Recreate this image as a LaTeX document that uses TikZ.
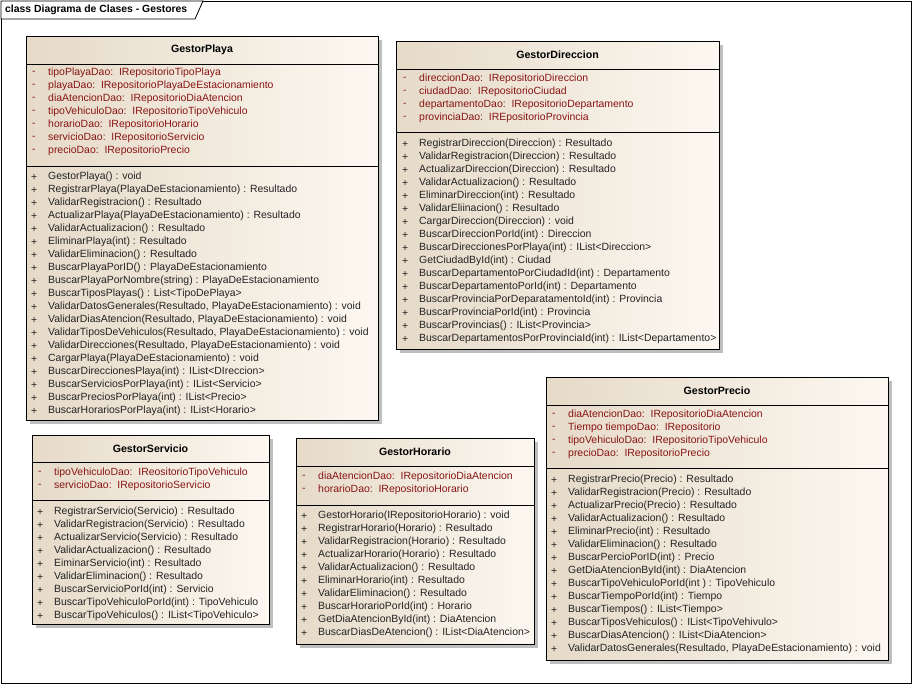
\documentclass[tikz,border=0pt]{standalone}
\usepackage{fontspec}
\setmainfont{Liberation Sans}
\definecolor{attrc}{RGB}{135,20,20}
\definecolor{methc}{RGB}{35,35,35}
\definecolor{boxL}{RGB}{230,218,200}
\definecolor{boxR}{RGB}{252,248,241}
\definecolor{shadowc}{RGB}{190,190,190}
\tikzset{
  every node/.style={font=\fontsize{10.45}{12}\selectfont},
  attr/.style={anchor=west, inner sep=0, text=attrc},
  meth/.style={anchor=west, inner sep=0, text=methc},
  ctitle/.style={inner sep=0, font=\fontsize{10.6}{12}\selectfont\bfseries},
  classbox/.style={draw=black, line width=0.9pt, left color=boxL, right color=boxR, inner sep=0, anchor=north west},
  shadowbox/.style={fill=shadowc},
  sepline/.style={draw=black, line width=0.8pt},
}
% #1 name, #2 x1, #3 y1, #4 x2, #5 y2, #6 sep1, #7 sep2, #8 title
\newcommand\umlclass[8]{%
  \fill[shadowbox] (#2+4,#3+4) rectangle (#4+4,#5+4);
  \node[classbox, minimum width={(#4-#2)*1pt}, minimum height={(#5-#3)*1pt}] (#1) at (#2,#3) {};
  \draw[sepline] (#2,#6) -- (#4,#6);
  \draw[sepline] (#2,#7) -- (#4,#7);
  \node[ctitle] (#1-title) at ({(#2+#4)/2},{(#3+#6)/2}) {#8};
}
% #1 name, #2 box x, #3 first y, #4 list
\newcommand\attrlist[4]{%
  \foreach \itemtext [count=\i] in {#4} {
    \node[attr] (#1-as\i) at (#2+6,{#3+(\i-1)*13}) {-};
    \node[attr] (#1-a\i) at (#2+22,{#3+(\i-1)*13}) {\itemtext};
  }%
}
\newcommand\methlist[4]{%
  \foreach \itemtext [count=\i] in {#4} {
    \node[meth] (#1-ms\i) at (#2+5,{#3+(\i-1)*13}) {+};
    \node[meth] (#1-m\i) at (#2+22,{#3+(\i-1)*13}) {\itemtext};
  }%
}
\newcommand\dsp{\ \ }
\begin{document}
\begin{tikzpicture}[x=1pt,y=-1pt]
\useasboundingbox (0,0) rectangle (913,685);
\fill[white] (0,0) rectangle (913,685);
\draw[line width=0.8pt] (1,1) rectangle (911,683);
\draw[line width=0.8pt, fill=white] (1,1) -- (203,1) -- (195,19) -- (1,19) -- cycle;
\node[anchor=west, inner sep=0, font=\fontsize{10.4}{12}\selectfont\bfseries] (frametitle) at (5,10) {class Diagrama de Clases - Gestores};

% GestorPlaya
\umlclass{playa}{26}{36}{378}{420}{64}{166}{GestorPlaya}
\attrlist{playa}{26}{73}{tipoPlayaDao:\dsp IRepositorioTipoPlaya, playaDao:\dsp IRepositorioPlayaDeEstacionamiento, diaAtencionDao:\dsp IRepositorioDiaAtencion, tipoVehiculoDao:\dsp IRepositorioTipoVehiculo, horarioDao:\dsp IRepositorioHorario, servicioDao:\dsp IRepositorioServicio, precioDao:\dsp IRepositorioPrecio}
\methlist{playa}{26}{177}{GestorPlaya() : void, RegistrarPlaya(PlayaDeEstacionamiento) : Resultado, ValidarRegistracion() : Resultado, ActualizarPlaya(PlayaDeEstacionamiento) : Resultado, ValidarActualizacion() : Resultado, EliminarPlaya(int) : Resultado, ValidarEliminacion() : Resultado, BuscarPlayaPorID() : PlayaDeEstacionamiento, BuscarPlayaPorNombre(string) : PlayaDeEstacionamiento, BuscarTiposPlayas() : List<TipoDePlaya>, {ValidarDatosGenerales(Resultado, PlayaDeEstacionamiento) : void}, {ValidarDiasAtencion(Resultado, PlayaDeEstacionamiento) : void}, {ValidarTiposDeVehiculos(Resultado, PlayaDeEstacionamiento) : void}, {ValidarDirecciones(Resultado, PlayaDeEstacionamiento) : void}, CargarPlaya(PlayaDeEstacionamiento) : void, BuscarDireccionesPlaya(int) : IList<DIreccion>, BuscarServiciosPorPlaya(int) : IList<Servicio>, BuscarPreciosPorPlaya(int) : IList<Precio>, BuscarHorariosPorPlaya(int) : IList<Horario>}

% GestorDireccion
\umlclass{direccion}{396}{41}{719}{349}{69}{132}{GestorDireccion}
\attrlist{direccion}{397}{79}{direccionDao:\dsp IRepositorioDireccion, ciudadDao:\dsp IRepositorioCiudad, departamentoDao:\dsp IRepositorioDepartamento, provinciaDao:\dsp IREpositorioProvincia}
\methlist{direccion}{397}{144}{RegistrarDireccion(Direccion) : Resultado, ValidarRegistracion(Direccion) : Resultado, ActualizarDireccion(Direccion) : Resultado, ValidarActualizacion() : Resultado, EliminarDireccion(int) : Resultado, ValidarEliinacion() : Resultado, CargarDireccion(Direccion) : void, BuscarDireccionPorId(int) : Direccion, BuscarDireccionesPorPlaya(int) : IList<Direccion>, GetCiudadById(int) : Ciudad, BuscarDepartamentoPorCiudadId(int) : Departamento, BuscarDepartamentoPorId(int) : Departamento, BuscarProvinciaPorDeparatamentoId(int) : Provincia, BuscarProvinciaPorId(int) : Provincia, BuscarProvincias() : IList<Provincia>, BuscarDepartamentosPorProvinciaId(int) : IList<Departamento>}

% GestorPrecio
\umlclass{precio}{546}{377}{888}{660}{405}{468}{GestorPrecio}
\attrlist{precio}{546}{415}{diaAtencionDao:\dsp IRepositorioDiaAtencion, Tiempo tiempoDao:\dsp IRepositorio, tipoVehiculoDao:\dsp IRepositorioTipoVehiculo, precioDao:\dsp IRepositorioPrecio}
\methlist{precio}{546}{480}{RegistrarPrecio(Precio) : Resultado, ValidarRegistracion(Precio) : Resultado, ActualizarPrecio(Precio) : Resultado, ValidarActualizacion() : Resultado, EliminarPrecio(int) : Resultado, ValidarEliminacion() : Resultado, BuscarPercioPorID(int) : Precio, GetDiaAtencionById(int) : DiaAtencion, BuscarTipoVehiculoPorId(int ) : TipoVehiculo, BuscarTiempoPorId(int) : Tiempo, BuscarTiempos() : IList<Tiempo>, BuscarTiposVehiculos() : IList<TipoVehivulo>, BuscarDiasAtencion() : IList<DiaAtencion>, {ValidarDatosGenerales(Resultado, PlayaDeEstacionamiento) : void}}

% GestorServicio
\umlclass{servicio}{32}{435}{269}{624}{462}{500}{GestorServicio}
\attrlist{servicio}{32}{473}{tipoVehiculoDao:\dsp IReositorioTipoVehiculo, servicioDao:\dsp IRepositorioServicio}
\methlist{servicio}{32}{512}{RegistrarServicio(Servicio) : Resultado, ValidarRegistracion(Servicio) : Resultado, ActualizarServicio(Servicio) : Resultado, ValidarActualizacion() : Resultado, EiminarServicio(int) : Resultado, ValidarEliminacion() : Resultado, BuscarServicioPorId(int) : Servicio, BuscarTipoVehiculoPorId(int) : TipoVehiculo, BuscarTipoVehiculos() : IList<TipoVehiculo>}

% GestorHorario
\umlclass{horario}{296}{438}{534}{644}{466}{505}{GestorHorario}
\attrlist{horario}{296}{477}{diaAtencionDao:\dsp IRepositorioDiaAtencion, horarioDao:\dsp IRepositorioHorario}
\methlist{horario}{296}{516}{GestorHorario(IRepositorioHorario) : void, RegistrarHorario(Horario) : Resultado, ValidarRegistracion(Horario) : Resultado, ActualizarHorario(Horario) : Resultado, ValidarActualizacion() : Resultado, EliminarHorario(int) : Resultado, ValidarEliminacion() : Resultado, BuscarHorarioPorId(int) : Horario, GetDiaAtencionById(int) : DiaAtencion, BuscarDiasDeAtencion() : IList<DiaAtencion>}
\end{tikzpicture}
\end{document}
